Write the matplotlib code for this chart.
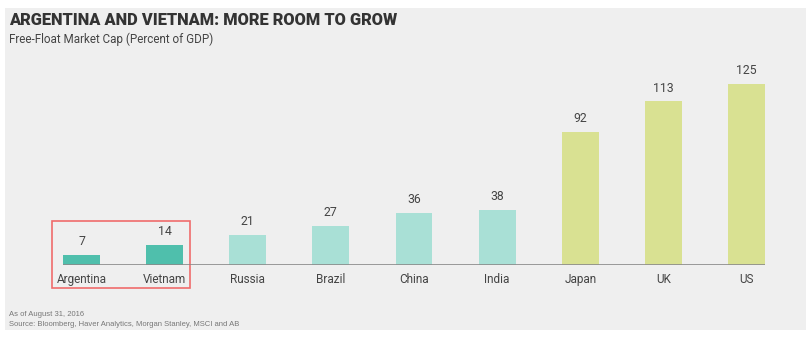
import matplotlib.pyplot as plt
import matplotlib.transforms as mtransforms
from matplotlib.patches import Rectangle

countries = ['Argentina', 'Vietnam', 'Russia', 'Brazil', 'China', 'India', 'Japan', 'UK', 'US']
values = [7, 14, 21, 27, 36, 38, 92, 113, 125]
groups = ['focus', 'focus', 'em', 'em', 'em', 'em', 'dm', 'dm', 'dm']

group_colors = {'focus': '#4fbfac', 'em': '#a9e0d6', 'dm': '#d9e192'}
text_col = '#444444'
bg = '#efefef'

W, H = 811, 342
fig = plt.figure(figsize=(W / 100, H / 100), dpi=100)
fig.patch.set_facecolor('white')

# grey panel behind everything
fig.patches.append(Rectangle((5 / W, 1 - 330 / H), 801 / W, 322 / H,
                             transform=fig.transFigure, facecolor=bg,
                             edgecolor='none', zorder=-10))

bw = 0.445
x0, x1 = 63, 765
y_base, y_top = 265, 40
ax = fig.add_axes([x0 / W, 1 - y_base / H, (x1 - x0) / W, (y_base - y_top) / H])
ax.set_facecolor('none')

xs = list(range(len(countries)))
ax.bar(xs, values, width=bw, color=[group_colors[g] for g in groups], zorder=2)
for x, v in zip(xs, values):
    ax.text(x, v + 4.5, str(v), ha='center', va='bottom', fontsize=8.8,
            color=text_col, family='Roboto')

ax.set_xlim(-bw / 2, len(countries) - 1 + bw / 2)
ax.set_ylim(0, (y_base - y_top) / 1.448)
ax.axhline(0, color='#8a8a8a', lw=1.2, zorder=3)

for s in ax.spines.values():
    s.set_visible(False)
ax.set_yticks([])
ax.set_xticks(xs)
ax.set_xticklabels(countries, fontsize=8.5, color=text_col, family='Roboto')
ax.tick_params(axis='x', length=0, pad=6)

# red highlight box around the two focus markets
trans = mtransforms.blended_transform_factory(ax.transData, fig.transFigure)
ax.add_patch(Rectangle((-0.355, 1 - 288 / H), 1.66, 67 / H, transform=trans,
                       fill=False, edgecolor='#ef6b6b', lw=1.2, clip_on=False))

fig.text(9 / W, 1 - 20 / H, 'ARGENTINA AND VIETNAM: MORE ROOM TO GROW',
         fontsize=11.8, fontweight='heavy', color='#333333', family='Roboto',
         va='center', ha='left')
fig.text(9 / W, 1 - 39 / H, 'Free-Float Market Cap (Percent of GDP)',
         fontsize=8.4, color=text_col, family='Roboto', va='center', ha='left')
fig.text(9 / W, 1 - 314 / H, 'As of August 31, 2016',
         fontsize=5.5, color='#777777', family='Liberation Sans', va='center', ha='left')
fig.text(9 / W, 1 - 324 / H, 'Source: Bloomberg, Haver Analytics, Morgan Stanley, MSCI and AB',
         fontsize=5.5, color='#777777', family='Liberation Sans', va='center', ha='left')

fig.savefig('out.png', dpi=100, facecolor=fig.get_facecolor())
